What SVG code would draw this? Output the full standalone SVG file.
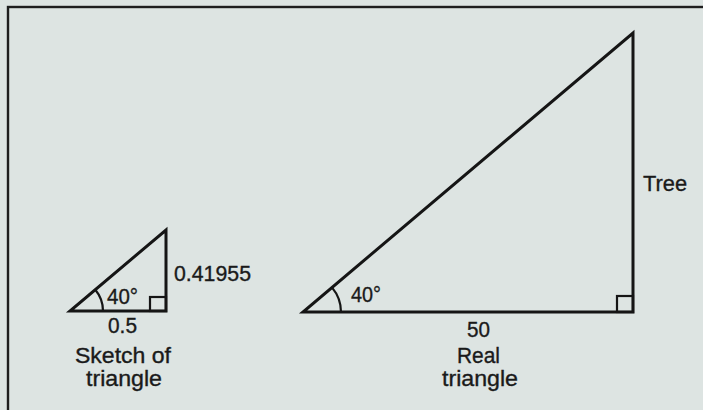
<svg xmlns="http://www.w3.org/2000/svg" width="703" height="410" viewBox="0 0 703 410">
<style>
.ln{fill:none;stroke:#151515;stroke-width:3;stroke-linejoin:miter;stroke-linecap:round}
.thin{fill:none;stroke:#151515;stroke-width:2.2}
.t{font-family:"Liberation Sans",Arial,sans-serif;font-size:22px;fill:#1a1a1a;stroke:#1a1a1a;stroke-width:0.35}
</style>
<rect x="0" y="0" width="703" height="410" fill="#dde4e2"/>
<rect x="8" y="7" width="730" height="430" fill="none" stroke="#1e1e1e" stroke-width="2.4"/>
<g id="sketch-triangle">
<path class="ln" d="M70,311 L166,311 L166,230 Z"/>
<rect class="thin" x="150" y="297" width="16" height="14"/>
<path class="thin" d="M103,311 A33,33 0 0 0 95.3,289.8"/>
<text class="t" x="107" y="304" textLength="31" lengthAdjust="spacingAndGlyphs">40°</text>
<text class="t" x="174" y="281" textLength="77" lengthAdjust="spacingAndGlyphs">0.41955</text>
<text class="t" x="108" y="333" textLength="29" lengthAdjust="spacingAndGlyphs">0.5</text>
<text class="t" x="75" y="363" textLength="96" lengthAdjust="spacingAndGlyphs">Sketch of</text>
<text class="t" x="86" y="386" textLength="76" lengthAdjust="spacingAndGlyphs">triangle</text>
</g>
<g id="real-triangle">
<path class="ln" d="M303,312 L633,312 L633,33 Z"/>
<rect class="thin" x="617" y="296" width="16" height="16"/>
<path class="thin" d="M341,312 A38,38 0 0 0 332.1,287.6"/>
<text class="t" x="351" y="302" textLength="30" lengthAdjust="spacingAndGlyphs">40°</text>
<text class="t" x="643" y="191" textLength="44" lengthAdjust="spacingAndGlyphs">Tree</text>
<text class="t" x="467" y="337" textLength="23" lengthAdjust="spacingAndGlyphs">50</text>
<text class="t" x="457" y="363" textLength="43" lengthAdjust="spacingAndGlyphs">Real</text>
<text class="t" x="442" y="386" textLength="76" lengthAdjust="spacingAndGlyphs">triangle</text>
</g>
</svg>
